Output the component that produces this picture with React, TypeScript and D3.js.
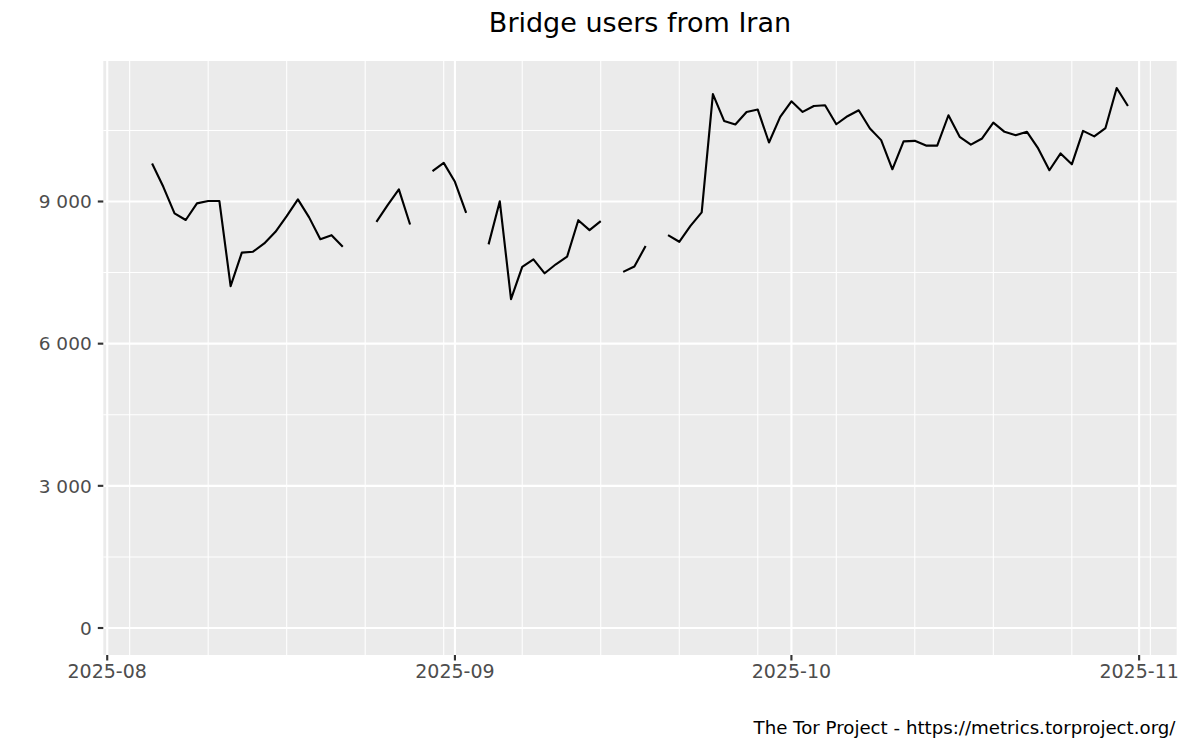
import React from "react";
import * as d3 from "d3";

const startDate = "2025-08-05";
const values: (number | null)[] = [
  9800, 9310, 8750, 8610, 8960, 9010, 9010, 7215, 7920, 7940, 8115, 8360, 8690, 9045, 8665, 8205, 8290, 8045,
  null, null,
  8570, 8925, 9255, 8515,
  null,
  9640, 9815, 9415, 8760,
  null,
  8095, 9005, 6940, 7620, 7780, 7485, 7675, 7835, 8605, 8395, 8585,
  null,
  7515, 7630, 8060,
  null,
  8290, 8150, 8485, 8770, 11265, 10700, 10625, 10890, 10940, 10245, 10785,
  11115, 10890, 11015, 11030, 10630, 10800, 10925, 10540, 10295, 9680, 10270, 10280, 10180, 10180,
  10820, 10365, 10200, 10330, 10665, 10470, 10400, 10470, 10120, 9660, 10015, 9785, 10490, 10375,
  10550, 11395, 11015,
];
const yMajorTicks = [0, 3000, 6000, 9000];
const yMinorTicks = [1500, 4500, 7500, 10500];
const xMajorTicks = ["2025-08-01", "2025-09-01", "2025-10-01", "2025-11-01"];
const xTickLabels = ["2025-08", "2025-09", "2025-10", "2025-11"];
const title = "Bridge users from Iran";
const caption = "The Tor Project - https://metrics.torproject.org/";

const DAY = 86400000;
const FONT = "'DejaVu Sans', sans-serif";

export default function App() {
  const W = 1200, H = 750;
  const left = 103.3, right = 1176.7, top = 61, bottom = 655;
  const t0 = new Date(startDate + "T00:00:00Z").getTime();
  const data = values.map((v, i) => ({ date: new Date(t0 + i * DAY), v }));
  const t1 = t0 + (values.length - 1) * DAY;
  const span = t1 - t0;
  const x = d3.scaleUtc().domain([new Date(t0 - 0.05 * span), new Date(t1 + 0.05 * span)]).range([left, right]);
  const vmax = d3.max(values, (d) => (d == null ? undefined : d)) as number;
  const y = d3.scaleLinear().domain([-0.05 * vmax, 1.05 * vmax]).range([bottom, top]);

  const [d0, d1] = x.domain();
  const xMinor = d3.utcSunday.range(d0, d1);
  const xMajor = xMajorTicks.map((s) => new Date(s + "T00:00:00Z"));

  const line = d3
    .line<{ date: Date; v: number | null }>()
    .defined((d) => d.v != null)
    .x((d) => x(d.date))
    .y((d) => y(d.v as number));

  const fmt = (n: number) => d3.format(",")(n).replace(/,/g, " ");

  return (
    <svg width={W} height={H} style={{ position: "absolute", left: 0, top: 0, display: "block", background: "#fff" }}>
      <rect x={left} y={top} width={right - left} height={bottom - top} fill="#EBEBEB" />
      <g stroke="#fff" fill="none">
        {yMinorTicks.map((t) => (
          <line key={"ym" + t} x1={left} x2={right} y1={y(t)} y2={y(t)} strokeWidth={1.07} />
        ))}
        {xMinor.map((d) => (
          <line key={"xm" + d.getTime()} x1={x(d)} x2={x(d)} y1={top} y2={bottom} strokeWidth={1.07} />
        ))}
        {yMajorTicks.map((t) => (
          <line key={"yM" + t} x1={left} x2={right} y1={y(t)} y2={y(t)} strokeWidth={2.13} />
        ))}
        {xMajor.map((d) => (
          <line key={"xM" + d.getTime()} x1={x(d)} x2={x(d)} y1={top} y2={bottom} strokeWidth={2.13} />
        ))}
      </g>
      <path d={line(data) || ""} fill="none" stroke="#000" strokeWidth={2.13} strokeLinejoin="round" />
      <g stroke="#333333" strokeWidth={2.13}>
        {yMajorTicks.map((t) => (
          <line key={"yt" + t} x1={left - 5.5} x2={left} y1={y(t)} y2={y(t)} />
        ))}
        {xMajor.map((d) => (
          <line key={"xt" + d.getTime()} x1={x(d)} x2={x(d)} y1={bottom} y2={bottom + 5.5} />
        ))}
      </g>
      <g fontFamily={FONT} fill="#4D4D4D">
        {yMajorTicks.map((t) => (
          <text key={"yl" + t} x={91.7} y={y(t) + 6.7} textAnchor="end" fontSize={18.5}>
            {fmt(t)}
          </text>
        ))}
        {xMajor.map((d, i) => (
          <text key={"xl" + i} x={x(d)} y={678.3} textAnchor="middle" fontSize={19}>
            {xTickLabels[i]}
          </text>
        ))}
      </g>
      <text x={(left + right) / 2} y={31.7} textAnchor="middle" fontFamily={FONT} fontSize={27} fill="#000">
        {title}
      </text>
      <text x={1175.5} y={734.3} textAnchor="end" fontFamily={FONT} fontSize={18.2} fill="#000">
        {caption}
      </text>
    </svg>
  );
}
